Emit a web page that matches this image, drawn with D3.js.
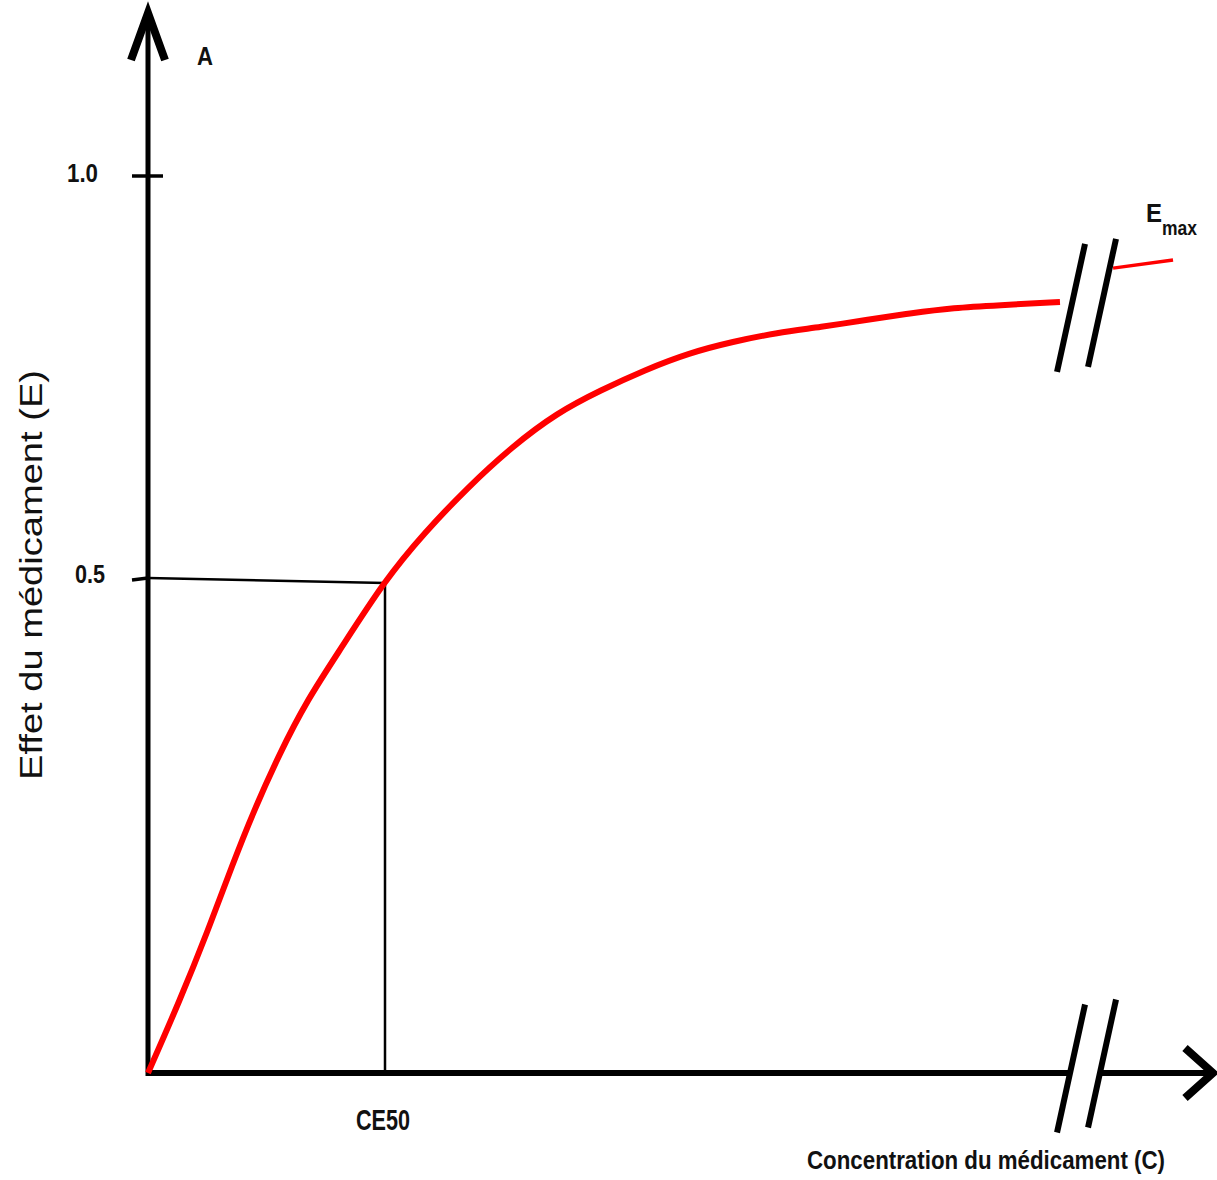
<!DOCTYPE html>
<html>
<head>
<meta charset="utf-8">
<script src="https://cdn.jsdelivr.net/npm/d3@7"></script>
<style>
  html, body { margin: 0; padding: 0; background: #fff; }
  svg { display: block; }
</style>
</head>
<body>
<script>
// ---- Data ----
// concentration in units of CE50, effect as fraction of 1.0
const concentration = [0, 0.135, 0.249, 0.359, 0.443, 0.557, 0.671, 0.810, 1.0, 1.165, 1.350, 1.536, 1.726, 1.911, 2.097, 2.283, 2.468, 2.654, 2.840, 3.030, 3.215, 3.401, 3.586, 3.848];
const effect =        [0, 0.074, 0.142, 0.213, 0.264, 0.325, 0.378, 0.429, 0.5, 0.558, 0.615, 0.665, 0.707, 0.735, 0.760, 0.781, 0.795, 0.806, 0.813, 0.822, 0.830, 0.837, 0.840, 0.844];
const concentrationAfterBreak = [4.072, 4.325];
const effectAfterBreak = [0.886, 0.896];
const yTickValues = [0.5, 1.0];
const yTickLabels = ["0.5", "1.0"];
const ce50 = 1.0;
const e50 = 0.5;
const breakConcentration = 3.96;
const breakEffect = 0.84;
const xAxisMax = 4.5;

const W = 1217, H = 1180;
const svg = d3.select("body").append("svg").attr("width", W).attr("height", H);

const x = d3.scaleLinear().domain([0, xAxisMax]).range([148, 148 + xAxisMax * 237]);
const y = d3.scaleLinear().domain([0, 0.5, 1.0]).range([1073, 580, 176]);

const black = "#000";
const boldFont = "'Liberation Sans', Arial, sans-serif";

// reference lines at CE50
svg.append("line")
  .attr("x1", x(0)).attr("y1", y(e50) - 2)
  .attr("x2", x(ce50)).attr("y2", y(e50) + 3)
  .attr("stroke", black).attr("stroke-width", 2.5);
svg.append("line")
  .attr("x1", x(ce50)).attr("y1", y(e50) + 3)
  .attr("x2", x(ce50)).attr("y2", y(0))
  .attr("stroke", black).attr("stroke-width", 2.5);

// Y axis
const yTop = 10;
svg.append("line")
  .attr("x1", x(0)).attr("y1", y(0) + 3)
  .attr("x2", x(0)).attr("y2", yTop + 4)
  .attr("stroke", black).attr("stroke-width", 5);
svg.append("path")
  .attr("d", `M${x(0) - 17},${yTop + 50} L${x(0)},${yTop + 3} L${x(0) + 17},${yTop + 50}`)
  .attr("fill", "none").attr("stroke", black).attr("stroke-width", 8)
  .attr("stroke-linejoin", "miter").attr("stroke-miterlimit", 10);

// Y ticks
yTickValues.forEach((v, i) => {
  const ty = y(v);
  svg.append("line")
    .attr("x1", x(0) - 16).attr("x2", v === 1 ? x(0) + 15 : x(0))
    .attr("y1", ty).attr("y2", ty - (v === 0.5 ? 2 : 0))
    .attr("stroke", black).attr("stroke-width", 3.5);
  const lx = v === 1 ? 67 : 75;
  svg.append("text")
    .attr("x", lx).attr("y", ty + (v === 1 ? 6 : 3))
    .attr("font-family", boldFont).attr("font-weight", "bold")
    .attr("font-size", 26)
    .attr("textLength", v === 1 ? 31 : 30).attr("lengthAdjust", "spacingAndGlyphs")
    .attr("fill", "#111")
    .text(yTickLabels[i]);
});

// X axis with break
const gapL = x(breakConcentration) - 16;
const gapR = x(breakConcentration) + 14;
const xEnd = 1213;
svg.append("line")
  .attr("x1", x(0) - 2).attr("y1", y(0)).attr("x2", gapL).attr("y2", y(0))
  .attr("stroke", black).attr("stroke-width", 6);
svg.append("line")
  .attr("x1", gapR).attr("y1", y(0)).attr("x2", xEnd - 4).attr("y2", y(0))
  .attr("stroke", black).attr("stroke-width", 6);
svg.append("path")
  .attr("d", `M${xEnd - 28},${y(0) - 25} L${xEnd},${y(0)} L${xEnd - 28},${y(0) + 25}`)
  .attr("fill", "none").attr("stroke", black).attr("stroke-width", 8)
  .attr("stroke-linejoin", "miter").attr("stroke-miterlimit", 10);

// Curve
const line = d3.line().x(d => x(d[0])).y(d => y(d[1])).curve(d3.curveBasis);
svg.append("path")
  .datum(d3.zip(concentration, effect))
  .attr("d", line)
  .attr("fill", "none").attr("stroke", "#ff0000").attr("stroke-width", 6)
  .attr("stroke-linecap", "butt");
svg.append("path")
  .datum(d3.zip(concentrationAfterBreak, effectAfterBreak))
  .attr("d", line)
  .attr("fill", "none").attr("stroke", "#ff0000").attr("stroke-width", 3.5);

// Break marks
function breakMarks(cx, cy) {
  [-15.5, 15.5].forEach((off, i) => {
    const mx = cx + off, my = cy + (i === 0 ? 2.5 : -2.5);
    svg.append("line")
      .attr("x1", mx + 14).attr("y1", my - 64)
      .attr("x2", mx - 14).attr("y2", my + 64)
      .attr("stroke", black).attr("stroke-width", 6);
  });
}
breakMarks(x(breakConcentration), y(breakEffect));
breakMarks(x(breakConcentration), y(0) - 7);

// Labels
svg.append("text")
  .attr("x", 197).attr("y", 65)
  .attr("font-family", boldFont).attr("font-weight", "bold").attr("font-size", 26)
  .attr("textLength", 16).attr("lengthAdjust", "spacingAndGlyphs")
  .attr("fill", "#111").text("A");

svg.append("text")
  .attr("x", 356).attr("y", 1130)
  .attr("font-family", boldFont).attr("font-weight", "bold").attr("font-size", 30)
  .attr("textLength", 54).attr("lengthAdjust", "spacingAndGlyphs")
  .attr("fill", "#111").text("CE50");

svg.append("text")
  .attr("x", 807).attr("y", 1169)
  .attr("font-family", boldFont).attr("font-weight", "bold").attr("font-size", 25)
  .attr("textLength", 358).attr("lengthAdjust", "spacingAndGlyphs")
  .attr("fill", "#111").text("Concentration du médicament (C)");

const emax = svg.append("text")
  .attr("x", 1146).attr("y", 222)
  .attr("font-family", boldFont).attr("font-weight", "bold").attr("font-size", 26)
  .attr("fill", "#111");
emax.append("tspan").attr("textLength", 16).attr("lengthAdjust", "spacingAndGlyphs").text("E");
emax.append("tspan").attr("dy", 13).attr("font-size", 20)
  .attr("textLength", 35).attr("lengthAdjust", "spacingAndGlyphs").text("max");

svg.append("text")
  .attr("transform", `translate(42,780) rotate(-90)`)
  .attr("font-family", "'Liberation Sans', Arial, sans-serif")
  .attr("font-size", 31)
  .attr("textLength", 410).attr("lengthAdjust", "spacingAndGlyphs")
  .attr("fill", "#111")
  .text("Effet du médicament (E)");
</script>
</body>
</html>
